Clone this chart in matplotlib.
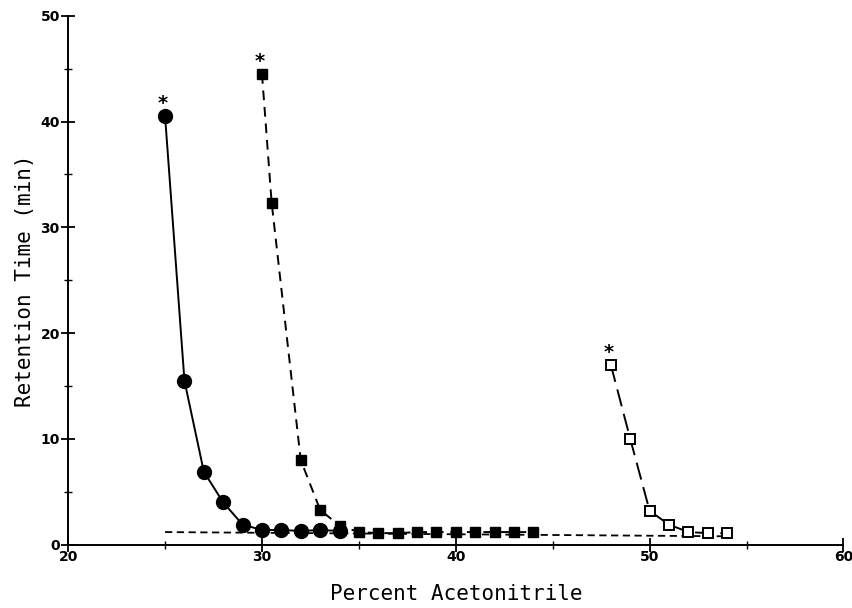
import matplotlib
matplotlib.use("Agg")
import matplotlib.pyplot as plt
from matplotlib.ticker import MultipleLocator

# retention time vs percent acetonitrile
circle_x = [25, 26, 27, 28, 29, 30, 31, 32, 33, 34]
circle_y = [40.5, 15.5, 6.9, 4.0, 1.9, 1.4, 1.4, 1.3, 1.4, 1.3]

fsq_x = [30, 30.5, 32, 33, 34, 35, 36, 37, 38, 39, 40, 41, 42, 43, 44]
fsq_y = [44.5, 32.3, 8.0, 3.3, 1.8, 1.2, 1.1, 1.1, 1.2, 1.2, 1.2, 1.2, 1.2, 1.2, 1.2]

osq_x = [48, 49, 50, 51, 52, 53, 54]
osq_y = [17.0, 10.0, 3.2, 1.9, 1.2, 1.1, 1.1]

t0_x = [25, 54]
t0_y = [1.2, 0.8]

star_x = [25, 30, 48]
star_y = [40.5, 44.5, 17.0]

fig = plt.figure(figsize=(8.52, 6.08), dpi=100)
ax = fig.add_axes([0.080, 0.104, 0.910, 0.870])

ax.plot(t0_x, t0_y, color="black", lw=1.3, linestyle=(0, (4, 2.5)))
ax.plot(circle_x, circle_y, color="black", lw=1.4, marker="o", ms=10,
        markerfacecolor="black")
ax.plot(fsq_x, fsq_y, color="black", lw=1.4, linestyle=(0, (5, 3.5)),
        marker="s", ms=6.5, markerfacecolor="black")
ax.plot(osq_x, osq_y, color="black", lw=1.4, linestyle=(0, (9, 4)),
        marker="s", ms=7, markerfacecolor="white", markeredgewidth=1.4)

for x, y in zip(star_x, star_y):
    ax.text(x - 0.1, y + 1.2, "*", fontsize=14, fontweight="bold",
            ha="center", va="center")

ax.set_xlim(20, 60)
ax.set_ylim(0, 50)
ax.xaxis.set_major_locator(MultipleLocator(10))
ax.xaxis.set_minor_locator(MultipleLocator(5))
ax.yaxis.set_major_locator(MultipleLocator(10))
ax.yaxis.set_minor_locator(MultipleLocator(5))
ax.tick_params(which="major", direction="inout", length=10, width=1.3,
               labelsize=10)
ax.tick_params(which="minor", direction="inout", length=6, width=1.0)
for lab in ax.get_xticklabels() + ax.get_yticklabels():
    lab.set_fontweight("bold")
ax.tick_params(axis="x", pad=-1)
ax.tick_params(axis="y", pad=1)

for s in ["top", "right"]:
    ax.spines[s].set_visible(False)
ax.spines["left"].set_linewidth(1.4)
ax.spines["bottom"].set_linewidth(1.4)

ax.set_xlabel("Percent Acetonitrile", fontsize=15, family="DejaVu Sans Mono",
              labelpad=14)
ax.set_ylabel("Retention Time (min)", fontsize=15, family="DejaVu Sans Mono",
              labelpad=4)

fig.savefig("out.png", dpi=100, facecolor="white")
